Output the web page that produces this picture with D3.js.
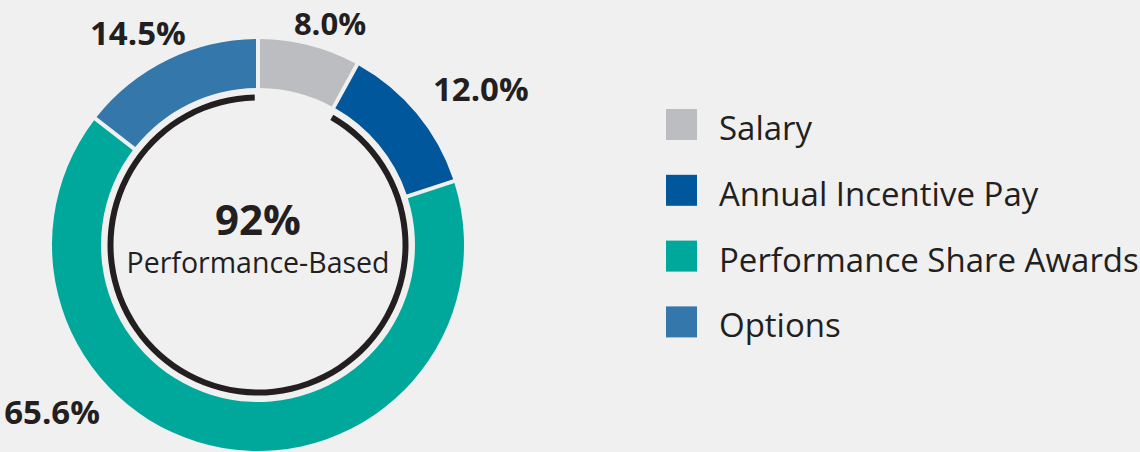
<!DOCTYPE html>
<html>
<head>
<meta charset="utf-8">
<script src="https://cdn.jsdelivr.net/npm/d3@7"></script>
<style>
  html, body { margin: 0; padding: 0; background: #f0f0f0; }
  svg { display: block; }
</style>
</head>
<body>
<div class="wrapper"></div>
<script>
// pay mix data
var categories = ["Salary", "Annual Incentive Pay", "Performance Share Awards", "Options"];
var values = [8.0, 12.0, 65.6, 14.5];
var valueLabels = ["8.0%", "12.0%", "65.6%", "14.5%"];
var colors = ["#bcbdc0", "#00579b", "#00a89c", "#3477aa"];
var centerValue = "92%";
var centerLabel = "Performance-Based";

// label placement, polar (degrees clockwise from top, radius)
var labelAngles = [18, 55, 231, -29.5];
var labelRadii = [233, 272, 265, 244];

var width = 1140, height = 452;
var cx = 258, cy = 245;
var outerR = 206, innerR = 157;

var svg = d3.select(".wrapper").append("svg")
    .attr("width", width)
    .attr("height", height);

svg.append("rect")
    .attr("width", width)
    .attr("height", height)
    .attr("fill", "#f0f0f0");

var g = svg.append("g")
    .attr("transform", "translate(" + cx + "," + cy + ")");

var pie = d3.pie().sort(null).value(function(d) { return d; });
var arcs = pie(values);

var arc = d3.arc()
    .innerRadius(innerR)
    .outerRadius(outerR)
    .padAngle(4 / outerR)
    .padRadius(outerR);

g.selectAll("path.slice")
    .data(arcs)
    .enter().append("path")
    .attr("class", "slice")
    .attr("d", arc)
    .attr("fill", function(d, i) { return colors[i]; });

// black ring for the performance based part (everything but salary)
var ringPad = 0.022;
var ring = d3.arc()
    .innerRadius(144.5)
    .outerRadius(150.5)
    .startAngle(arcs[0].endAngle + ringPad)
    .endAngle(2 * Math.PI - ringPad);

g.append("path")
    .attr("d", ring())
    .attr("fill", "#231f20");

// value labels
g.selectAll("text.val")
    .data(valueLabels)
    .enter().append("text")
    .attr("class", "val")
    .attr("x", function(d, i) { return labelRadii[i] * Math.sin(labelAngles[i] * Math.PI / 180); })
    .attr("y", function(d, i) { return -labelRadii[i] * Math.cos(labelAngles[i] * Math.PI / 180); })
    .attr("dy", "0.36em")
    .attr("text-anchor", "middle")
    .style("font-family", "'Open Sans'")
    .style("font-weight", "700")
    .style("font-size", function(d, i) { return i == 0 ? "31px" : "33px"; })
    .style("fill", "#231f20")
    .text(function(d) { return d; });

// center text
g.append("text")
    .attr("y", -10)
    .attr("text-anchor", "middle")
    .style("font-family", "'Open Sans'")
    .style("font-weight", "700")
    .style("font-size", "42px")
    .style("fill", "#231f20")
    .text(centerValue);

g.append("text")
    .attr("y", 28)
    .attr("text-anchor", "middle")
    .style("font-family", "'Open Sans'")
    .style("font-size", "28.5px")
    .style("fill", "#231f20")
    .text(centerLabel);

// legend
var legend = svg.append("g")
    .attr("transform", "translate(666,109)");

var item = legend.selectAll("g.item")
    .data(categories)
    .enter().append("g")
    .attr("class", "item")
    .attr("transform", function(d, i) { return "translate(0," + (i * 65.8) + ")"; });

item.append("rect")
    .attr("width", 31)
    .attr("height", 31)
    .attr("fill", function(d, i) { return colors[i]; });

item.append("text")
    .attr("x", 53)
    .attr("y", 31)
    .style("font-family", "'Open Sans'")
    .style("font-size", "33px")
    .style("fill", "#231f20")
    .text(function(d) { return d; });
</script>
</body>
</html>
